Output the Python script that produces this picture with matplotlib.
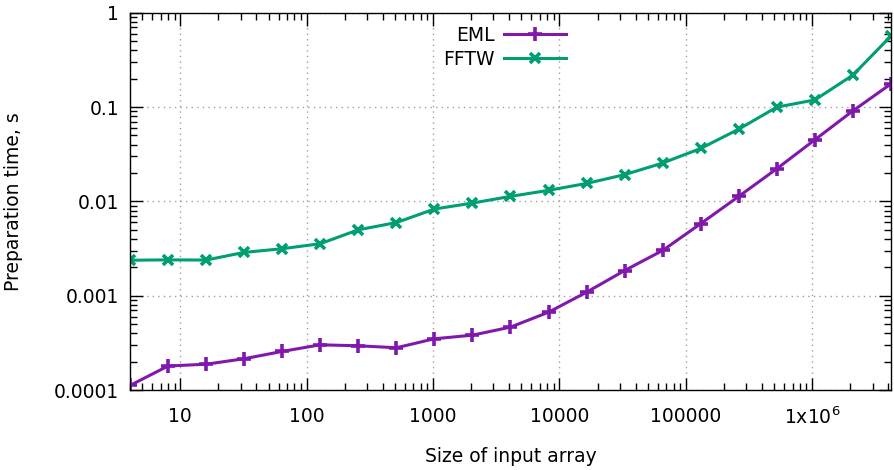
import numpy as np
import matplotlib
matplotlib.use("Agg")
from matplotlib import pyplot as plt
from matplotlib.ticker import FixedLocator, LogLocator, NullFormatter, FuncFormatter

# Array sizes (powers of two, 2^2 .. 2^22)
sizes = [2 ** k for k in range(2, 23)]

# Preparation time, seconds
eml = [0.000112, 0.000180, 0.000188, 0.000215, 0.000257, 0.000302, 0.000295,
       0.000281, 0.000350, 0.000382, 0.000465, 0.000669, 0.00109, 0.00185,
       0.00302, 0.00581, 0.0113, 0.0222, 0.045, 0.0912, 0.176]
fftw = [0.00238, 0.00240, 0.00239, 0.00288, 0.00315, 0.00356, 0.0050,
        0.00596, 0.0083, 0.0096, 0.0113, 0.0131, 0.0155, 0.0192,
        0.0255, 0.0364, 0.0583, 0.0998, 0.119, 0.218, 0.567]

xticks = [10, 100, 1000, 10000, 100000, 1000000]
xticklabels = ['10', '100', '1000', '10000', '100000', '1x10$^6$']
yticks = [0.0001, 0.001, 0.01, 0.1, 1]
yticklabels = ['0.0001', '0.001', '0.01', '0.1', '1']

plt.rcParams['font.family'] = ['DejaVu Sans']
plt.rcParams['mathtext.fontset'] = 'dejavusans'

fig = plt.figure(figsize=(8.94, 4.70), dpi=100)
ax = fig.add_axes([0.1454, 0.170, 0.8512, 0.803])

ax.plot(sizes, eml, color='#8019ab', lw=2.2, marker='+', ms=9.5, mew=2.6,
        label='EML', solid_joinstyle='round')
ax.plot(sizes, fftw, color='#009e73', lw=2.2, marker='x', ms=7.5, mew=2.6,
        label='FFTW', solid_joinstyle='round')

ax.set_xscale('log')
ax.set_yscale('log')
ax.set_xlim(4, 4194304)
ax.set_ylim(0.0001, 1)

ax.xaxis.set_major_locator(FixedLocator(xticks))
ax.xaxis.set_major_formatter(FuncFormatter(lambda v, p: xticklabels[xticks.index(v)] if v in xticks else ''))
ax.xaxis.set_minor_locator(LogLocator(base=10, subs=np.arange(2, 10), numticks=20))
ax.xaxis.set_minor_formatter(NullFormatter())
ax.yaxis.set_major_locator(FixedLocator(yticks))
ax.yaxis.set_major_formatter(FuncFormatter(lambda v, p: yticklabels[yticks.index(v)] if v in yticks else ''))
ax.yaxis.set_minor_locator(LogLocator(base=10, subs=np.arange(2, 10), numticks=20))
ax.yaxis.set_minor_formatter(NullFormatter())

ax.tick_params(which='both', direction='in', top=True, right=True, width=1, colors='black')
ax.tick_params(which='major', length=9, labelsize=13.5)
ax.tick_params(which='minor', length=5)
ax.tick_params(axis='x', which='major', pad=12)
ax.tick_params(axis='y', which='major', pad=8)

ax.grid(True, which='major', color='#a0a0a0', lw=1, linestyle=(0, (1, 3)))
for s in ax.spines.values():
    s.set_linewidth(1)

ax.set_xlabel('Size of input array', fontsize=13.5)
ax.set_ylabel('Preparation time, s', fontsize=13.5)
ax.xaxis.set_label_coords(0.5, -0.152)
ax.yaxis.set_label_coords(-0.141, 0.5)

ax.legend(loc='upper center', bbox_to_anchor=(0.492, 1.0), markerfirst=False, frameon=False,
          fontsize=13.5, handlelength=3.3, handletextpad=0.5, labelspacing=0.25,
          borderaxespad=0.3)

fig.savefig('out.png', dpi=100)
